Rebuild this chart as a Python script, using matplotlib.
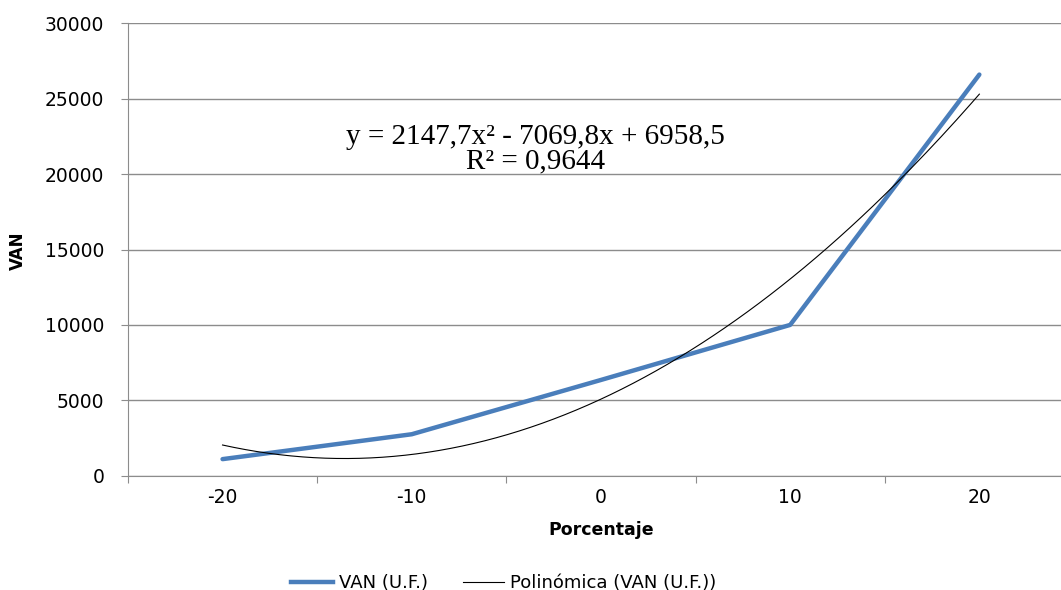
import numpy as np
import matplotlib.pyplot as plt
from matplotlib.lines import Line2D

# Datos
porcentajes = ['-20', '-10', '0', '10', '20']
van = [1100, 2750, 6350, 10000, 26600]
# coeficientes de la línea de tendencia (etiqueta del gráfico)
coef_tendencia = [2147.7, -7069.8, 6958.5]
r2 = '0,9644'

pos = np.arange(1, len(porcentajes) + 1)
gris = '#8c8c8c'

fig = plt.figure(figsize=(10.61, 5.90), dpi=100)
ax = fig.add_axes([0.1206, 0.1937, 0.8916, 0.7668])

ax.plot(pos, van, color='#4a7ebb', lw=3.2, solid_capstyle='round', zorder=3)
xs = np.linspace(pos[0], pos[-1], 200)
ax.plot(xs, np.polyval(coef_tendencia, xs), color='black', lw=0.8, zorder=4)

ax.set_xlim(0.5, len(porcentajes) + 0.5)
ax.set_ylim(0, 30000)
ax.set_yticks(range(0, 30001, 5000))
ax.grid(axis='y', color=gris, lw=1)
ax.set_axisbelow(True)

# ticks de categoría en los bordes, etiquetas en el centro
ax.set_xticks(np.arange(0.5, len(porcentajes) + 1, 1))
ax.set_xticklabels([])
ax.set_xticks(pos, minor=True)
ax.set_xticklabels(porcentajes, minor=True)
ax.tick_params(axis='x', which='major', length=5, color=gris, direction='out')
ax.tick_params(axis='x', which='minor', length=0, pad=9, labelsize=13.5)
ax.tick_params(axis='y', length=5, color=gris, pad=12, labelsize=13.5)

for s in ['top', 'right']:
    ax.spines[s].set_visible(False)
for s in ['left', 'bottom']:
    ax.spines[s].set_color(gris)

ax.set_xlabel('Porcentaje', fontweight='bold', fontsize=12.5, labelpad=10)
fig.text(0.017, 0.575, 'VAN', rotation=90, fontweight='bold', fontsize=12,
         ha='center', va='center')

fig.text(0.5047, 0.768, 'y = 2147,7x² - 7069,8x + 6958,5', ha='center',
         va='center', family='Liberation Serif', fontsize=21)
fig.text(0.5047, 0.726, 'R² = ' + r2, ha='center', va='center',
         family='Liberation Serif', fontsize=21)

handles = [Line2D([], [], color='#4a7ebb', lw=3.2),
           Line2D([], [], color='black', lw=0.8)]
fig.legend(handles, ['VAN (U.F.)', 'Polinómica (VAN (U.F.))'],
           loc='center', bbox_to_anchor=(0.475, 0.012), ncol=2, frameon=False,
           fontsize=13, handlelength=2.3, handletextpad=0.35,
           columnspacing=1.9)

fig.savefig('out.png', dpi=100)
